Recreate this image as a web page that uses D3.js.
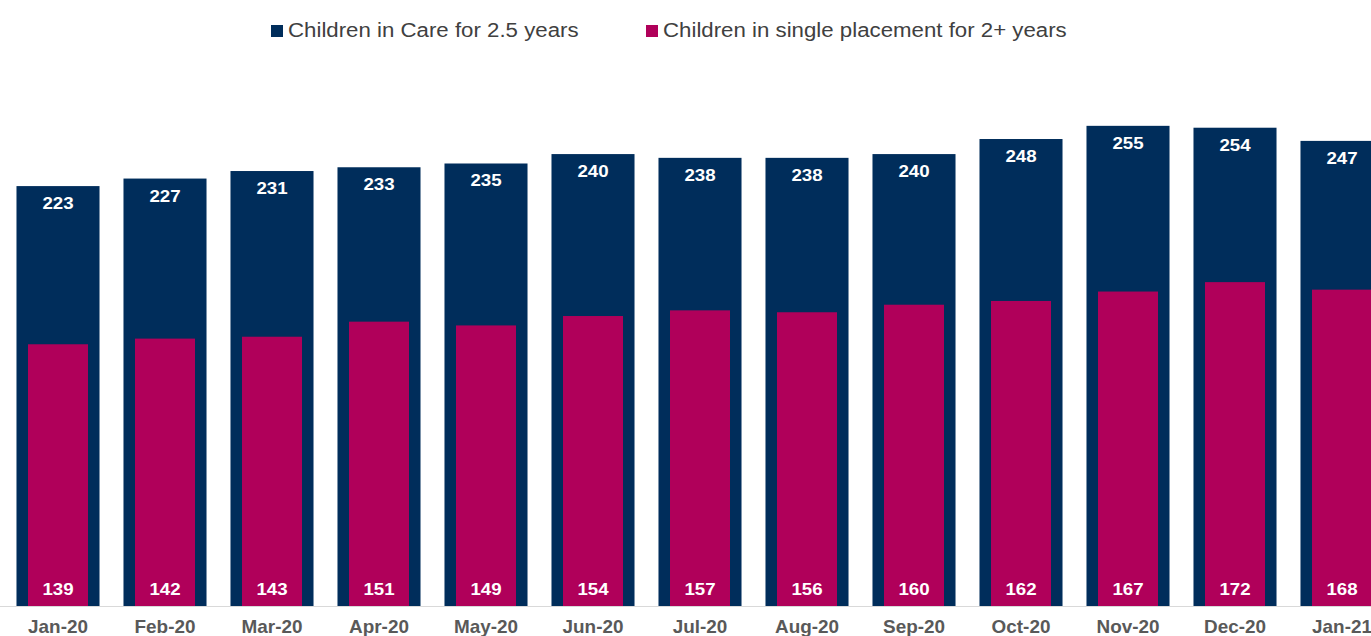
<!DOCTYPE html>
<html>
<head>
<meta charset="utf-8">
<script src="https://cdn.jsdelivr.net/npm/d3@7"></script>
<style>
  body { margin: 0; background: #fff; overflow: hidden; }
  svg { display: block; font-family: "Liberation Sans", Arial, sans-serif; }
</style>
</head>
<body>
<div id="chart"></div>
<script>
var months = ["Jan-20","Feb-20","Mar-20","Apr-20","May-20","Jun-20","Jul-20","Aug-20","Sep-20","Oct-20","Nov-20","Dec-20","Jan-21"];
var inCare = [223,227,231,233,235,240,238,238,240,248,255,254,247];
var singlePlacement = [139,142,143,151,149,154,157,156,160,162,167,172,168];
var seriesNames = ["Children in Care for 2.5 years", "Children in single placement for 2+ years"];
var colors = ["#002d5b", "#b0005a"];

var width = 1371, height = 636;
var svg = d3.select("#chart").append("svg")
    .attr("width", width)
    .attr("height", height);

// the original picture is slightly stretched sideways, so text gets a small x-scale
function placeText(sel, fx, fy, sx) {
  sel.attr("transform", function(d, i) {
    return "translate(" + fx(d, i) + "," + fy(d, i) + ") scale(" + sx + ",1)";
  });
}

// band step ~107px, first bar starting at x=16; last band runs off the right edge
var x = d3.scaleBand()
    .domain(months)
    .range([4.5, 4.5 + 107 * months.length])
    .paddingInner(0.224)
    .paddingOuter(0.112);

var y = d3.scaleLinear()
    .domain([0, 300])
    .range([606, 606 - 300 * 1.883]);

var g = svg.append("g");

// baseline
g.append("line")
    .attr("x1", 0).attr("x2", width)
    .attr("y1", 606.5).attr("y2", 606.5)
    .attr("stroke", "#d9d9d9");

// wide navy bars
g.selectAll("rect.care")
  .data(inCare)
  .enter().append("rect")
    .attr("class", "care")
    .attr("x", function(d, i) { return x(months[i]); })
    .attr("width", x.bandwidth())
    .attr("y", function(d) { return y(d); })
    .attr("height", function(d) { return y(0) - y(d); })
    .style("fill", colors[0]);

// narrower magenta bars overlapping
var inner = 60;
g.selectAll("rect.single")
  .data(singlePlacement)
  .enter().append("rect")
    .attr("class", "single")
    .attr("x", function(d, i) { return x(months[i]) + (x.bandwidth() - inner) / 2; })
    .attr("width", inner)
    .attr("y", function(d) { return y(d); })
    .attr("height", function(d) { return y(0) - y(d); })
    .style("fill", colors[1]);

var mid = function(d, i) { return x(months[i]) + x.bandwidth() / 2; };

// value labels
g.selectAll("text.careLbl")
  .data(inCare)
  .enter().append("text")
    .attr("class", "careLbl")
    .attr("text-anchor", "middle")
    .style("fill", "#fff")
    .style("font-weight", "bold")
    .style("font-size", "17px")
    .text(function(d) { return d; })
    .call(placeText, mid, function(d) { return y(d) + 23; }, 1.1);

g.selectAll("text.singleLbl")
  .data(singlePlacement)
  .enter().append("text")
    .attr("class", "singleLbl")
    .attr("text-anchor", "middle")
    .style("fill", "#fff")
    .style("font-weight", "bold")
    .style("font-size", "17px")
    .text(function(d) { return d; })
    .call(placeText, mid, function() { return 595; }, 1.1);

// x axis labels
var xAxis = g.append("g")
    .attr("transform", "translate(0,606)")
    .call(d3.axisBottom(x).tickSize(0));
xAxis.select(".domain").remove();
xAxis.selectAll("text")
    .attr("dy", null)
    .attr("y", 27)
    .attr("transform", "scale(1.05,1)")
    .style("font-family", "'Liberation Sans', Arial, sans-serif")
    .style("font-size", "18px")
    .style("font-weight", "bold")
    .style("fill", "#595959");

// legend
var legendX = [271, 646];
var legend = svg.selectAll("g.legend")
  .data(seriesNames)
  .enter().append("g")
    .attr("class", "legend")
    .attr("transform", function(d, i) { return "translate(" + legendX[i] + ",0)"; });
legend.append("rect")
    .attr("x", 0).attr("y", 25)
    .attr("width", 12).attr("height", 12)
    .style("fill", function(d, i) { return colors[i]; });
legend.append("text")
    .style("font-size", "21px")
    .style("fill", "#404040")
    .text(function(d) { return d; })
    .call(placeText, function() { return 17; }, function() { return 37; }, 1.06);
</script>
</body>
</html>
